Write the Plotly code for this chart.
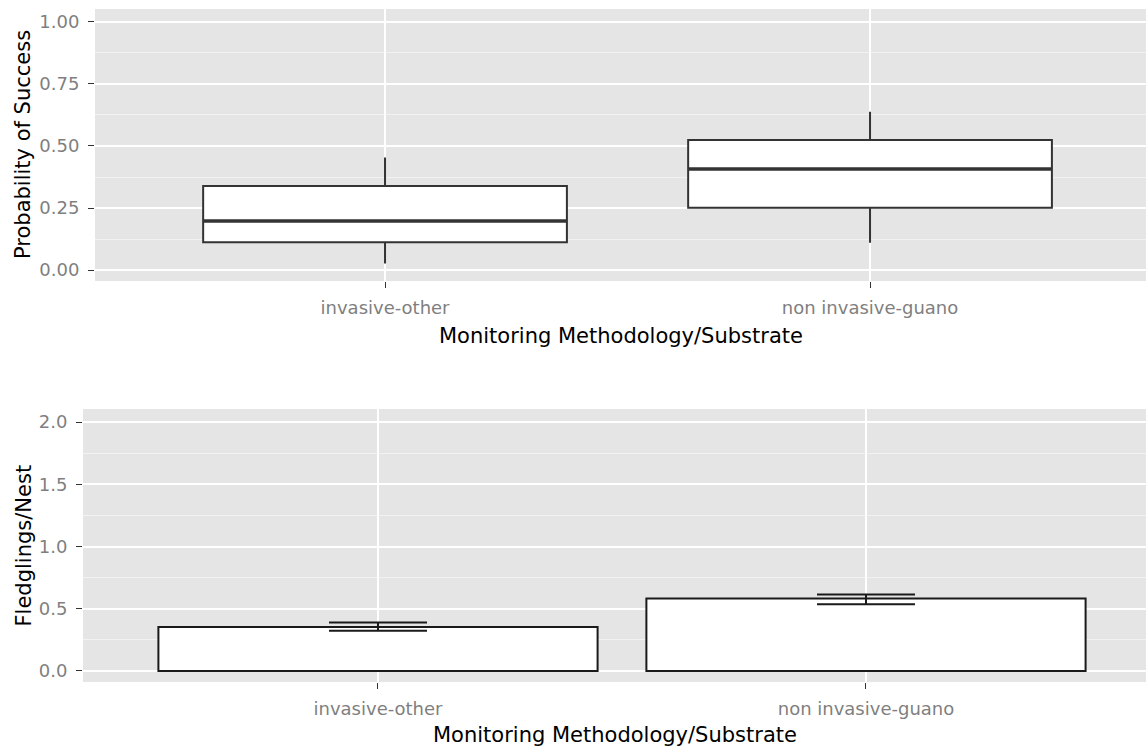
import plotly.graph_objects as go

# ---------------- data ----------------
categories = ["invasive-other", "non invasive-guano"]

# top panel: box plot of probability of success
success_lower = [0.027, 0.110]
success_q1 = [0.112, 0.251]
success_median = [0.198, 0.407]
success_q3 = [0.339, 0.524]
success_upper = [0.454, 0.638]

# bottom panel: mean fledglings per nest with error bars
fledglings_mean = [0.354, 0.583]
fledglings_low = [0.322, 0.535]
fledglings_high = [0.390, 0.615]

top_yticks = [0.0, 0.25, 0.5, 0.75, 1.0]
top_yticktext = ["0.00", "0.25", "0.50", "0.75", "1.00"]
top_yminor = [0.125, 0.375, 0.625, 0.875]
bot_yticks = [0.0, 0.5, 1.0, 1.5, 2.0]
bot_yticktext = ["0.0", "0.5", "1.0", "1.5", "2.0"]
bot_yminor = [0.25, 0.75, 1.25, 1.75]

# ---------------- style ----------------
W, H = 1146, 749
BG = "#E5E5E5"
TICKFONT = dict(family="DejaVu Sans", size=18, color="#7F7F7F")
TITLEFONT = dict(family="DejaVu Sans", size=21, color="#000000")
BOX_W = 0.75
BAR_W = 0.9

positions = list(range(1, len(categories) + 1))

fig = go.Figure()

# box plot (top)
fig.add_trace(go.Box(
    x=positions, q1=success_q1, median=success_median, q3=success_q3,
    lowerfence=success_lower, upperfence=success_upper,
    width=BOX_W, whiskerwidth=0, boxpoints=False,
    fillcolor="white", line=dict(color="#333333", width=2),
    xaxis="x", yaxis="y", showlegend=False, hoverinfo="skip",
))
# thicker median line
mx, my = [], []
for p, m in zip(positions, success_median):
    mx += [p - BOX_W / 2, p + BOX_W / 2, None]
    my += [m, m, None]
fig.add_trace(go.Scatter(
    x=mx, y=my, mode="lines", line=dict(color="#333333", width=3.5),
    xaxis="x", yaxis="y", showlegend=False, hoverinfo="skip",
))

# bar chart with error bars (bottom)
fig.add_trace(go.Bar(
    x=positions, y=fledglings_mean, width=BAR_W,
    marker=dict(color="white", line=dict(color="#1A1A1A", width=2)),
    error_y=dict(
        type="data", symmetric=False,
        array=[h - m for h, m in zip(fledglings_high, fledglings_mean)],
        arrayminus=[m - l for m, l in zip(fledglings_mean, fledglings_low)],
        color="#1A1A1A", thickness=2, width=49,
    ),
    xaxis="x2", yaxis="y2", showlegend=False, hoverinfo="skip",
))

# ---------------- layout ----------------
top_l, top_t, top_b = 95, 9, 281
bot_l, bot_t, bot_b = 83, 409, 682

common_x = dict(
    tickmode="array", tickvals=positions, ticktext=categories,
    showgrid=True, gridcolor="white", gridwidth=2,
    ticks="outside", ticklen=6, tickwidth=1, tickcolor="#333333",
    tickfont=TICKFONT, showline=False, zeroline=False, fixedrange=True,
    ticklabelstandoff=4,
)
common_y = dict(
    tickmode="array", showgrid=True, gridcolor="white", gridwidth=2,
    ticks="outside", ticklen=6, tickwidth=1, tickcolor="#333333",
    tickfont=TICKFONT, showline=False, zeroline=False, fixedrange=True,
    ticklabelstandoff=5,
)

fig.update_layout(
    width=W, height=H,
    margin=dict(l=0, r=0, t=0, b=0, autoexpand=False),
    paper_bgcolor="white", plot_bgcolor=BG,
    showlegend=False,
    xaxis=dict(common_x, domain=[top_l / W, 1], range=[0.402, 2.569], anchor="y"),
    yaxis=dict(common_y, domain=[1 - top_b / H, 1 - top_t / H], range=[-0.044, 1.052],
               tickvals=top_yticks, ticktext=top_yticktext, anchor="x",
               minor=dict(tickmode="array", tickvals=top_yminor, showgrid=True,
                          gridcolor="#F2F2F2", gridwidth=1, ticks="")),
    xaxis2=dict(common_x, domain=[bot_l / W, 1], range=[0.3955, 2.5738], anchor="y2"),
    yaxis2=dict(common_y, domain=[1 - bot_b / H, 1 - bot_t / H], range=[-0.089, 2.105],
                tickvals=bot_yticks, ticktext=bot_yticktext, anchor="x2",
                minor=dict(tickmode="array", tickvals=bot_yminor, showgrid=True,
                           gridcolor="#F2F2F2", gridwidth=1, ticks="")),
    annotations=[
        dict(text="Monitoring Methodology/Substrate", xref="paper", yref="paper",
             x=(top_l + W) / 2 / W, y=1 - 336 / H, xanchor="center", yanchor="middle",
             showarrow=False, font=TITLEFONT),
        dict(text="Probability of Success", xref="paper", yref="paper",
             x=23 / W, y=1 - (top_t + top_b) / 2 / H, xanchor="center", yanchor="middle",
             textangle=-90, showarrow=False, font=TITLEFONT),
        dict(text="Monitoring Methodology/Substrate", xref="paper", yref="paper",
             x=(bot_l + W) / 2 / W, y=1 - 735 / H, xanchor="center", yanchor="middle",
             showarrow=False, font=TITLEFONT),
        dict(text="Fledglings/Nest", xref="paper", yref="paper",
             x=23 / W, y=1 - (bot_t + bot_b) / 2 / H, xanchor="center", yanchor="middle",
             textangle=-90, showarrow=False, font=TITLEFONT),
    ],
)

fig.write_html(
    "out.html",
    config={"displayModeBar": False, "staticPlot": True},
    post_script="document.body.style.margin='0';document.body.style.overflow='hidden';",
)
